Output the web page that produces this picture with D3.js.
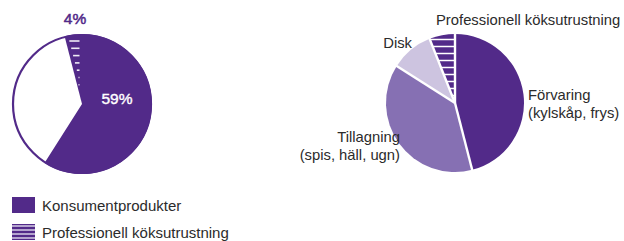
<!DOCTYPE html>
<html>
<head>
<meta charset="utf-8">
<script src="https://cdn.jsdelivr.net/npm/d3@7"></script>
<style>
  body { margin: 0; background: #fff; }
  text { font-family: "Liberation Sans", Arial, sans-serif; }
</style>
</head>
<body>
<svg id="chart" width="624" height="241"></svg>
<script>
// left pie: share of sales
var leftNames = ["Professionell köksutrustning", "Konsumentprodukter", "Övrigt"];
var leftValues = [4, 59, 37];
var leftLabels = ["4%", "59%", ""];

// right pie: professional kitchen split
var rightNames = ["Förvaring (kylskåp, frys)", "Tillagning (spis, häll, ugn)", "Disk", "Professionell köksutrustning"];
var rightValues = [46, 38, 10, 6];

var legendNames = ["Konsumentprodukter", "Professionell köksutrustning"];

var dark = "#522a89", mid = "#8670b3", light = "#cdc4e0", txt = "#2b2b2b";
var svg = d3.select("#chart");

/* ---------- left pie ---------- */
var lcx = 82, lcy = 104, lr = 70;
var a0 = leftValues[0] / 100 * 2 * Math.PI;
var lpie = d3.pie().sort(null).startAngle(-a0).endAngle(2 * Math.PI - a0);
var larc = d3.arc().innerRadius(0).outerRadius(lr);
var lg = svg.append("g").attr("transform", "translate(" + lcx + "," + lcy + ")");
var ldata = lpie(leftValues);

lg.append("circle").attr("r", lr - 1).attr("fill", "#fff")
	.attr("stroke", dark).attr("stroke-width", 2.2);
lg.selectAll("path.s").data(ldata.slice(0, 2)).enter()
	.append("path").attr("class", "s")
	.attr("d", larc).attr("fill", dark);

// short white dashes inside the 4% slice, inset from its edges
var tanA = Math.tan(Math.abs(ldata[0].startAngle));
d3.range(-lr + 7, -14, 7.3).forEach(function(y) {
	var xl = y * tanA + 3.5, xr = -2.5;
	if (xr - xl < 1) { xl = xr - 1; }
	lg.append("line").attr("x1", xl).attr("x2", xr)
		.attr("y1", y).attr("y2", y)
		.attr("stroke", "#efebf5").attr("stroke-width", 1.6);
});

lg.append("text").attr("x", -7).attr("y", -80)
	.attr("text-anchor", "middle").attr("fill", dark)
	.attr("stroke", dark).attr("stroke-width", 0.5)
	.attr("font-size", 15.5).text(leftLabels[0]);
lg.append("text").attr("x", 35).attr("y", 0)
	.attr("text-anchor", "middle").attr("fill", "#fff")
	.attr("stroke", "#fff").attr("stroke-width", 0.4)
	.attr("font-size", 15.5).text(leftLabels[1]);

/* ---------- right pie ---------- */
var rcx = 455, rcy = 103, rr = 69;
var rpie = d3.pie().sort(null);
var rarc = d3.arc().innerRadius(0).outerRadius(rr);
var rg = svg.append("g").attr("transform", "translate(" + rcx + "," + rcy + ")");
var rdata = rpie(rightValues);
var rcol = [dark, mid, light, dark];

rg.selectAll("path.s").data(rdata).enter()
	.append("path").attr("class", "s")
	.attr("d", rarc).attr("fill", function(d, i) { return rcol[i]; });

(function() {
	var d = rdata[3];
	rg.append("clipPath").attr("id", "rclip").append("path").attr("d", rarc(d));
	var gl = rg.append("g").attr("clip-path", "url(#rclip)");
	d3.range(-rr + 5.5, 0, 7).forEach(function(y) {
		gl.append("line").attr("x1", -rr).attr("x2", 0)
			.attr("y1", y).attr("y2", y)
			.attr("stroke", "#fff").attr("stroke-width", 1.4);
	});
})();

// white separators
rg.selectAll("line.sep").data(rdata).enter()
	.append("line").attr("class", "sep")
	.attr("x1", 0).attr("y1", 0)
	.attr("x2", function(d) { return Math.sin(d.startAngle) * (rr + 1); })
	.attr("y2", function(d) { return -Math.cos(d.startAngle) * (rr + 1); })
	.attr("stroke", "#fff").attr("stroke-width", 2.4);

var rlab = [
	{lines: ["Förvaring", "(kylskåp, frys)"], x: 73, y: -3, anchor: "start"},
	{lines: ["Tillagning", "(spis, häll, ugn)"], x: -55, y: 39, anchor: "end"},
	{lines: ["Disk"], x: -43, y: -55, anchor: "end"},
	{lines: ["Professionell köksutrustning"], x: -19, y: -78, anchor: "start"}
];
rlab.forEach(function(l) {
	var t = rg.append("text").attr("text-anchor", l.anchor)
		.attr("fill", txt).attr("font-size", 14.8);
	l.lines.forEach(function(s, k) {
		t.append("tspan").attr("x", l.x).attr("y", l.y + k * 18).text(s);
	});
});

/* ---------- legend ---------- */
var leg = svg.append("g").attr("transform", "translate(12,197)");
legendNames.forEach(function(n, i) {
	var g = leg.append("g").attr("transform", "translate(0," + i * 27 + ")");
	g.append("rect").attr("width", 23).attr("height", 16).attr("fill", dark);
	if (i == 1) {
		[2, 6, 10, 14].forEach(function(y) {
			g.append("line").attr("x1", 0).attr("x2", 23)
				.attr("y1", y).attr("y2", y)
				.attr("stroke", light).attr("stroke-width", 1.6);
		});
	}
	g.append("text").attr("x", 30).attr("y", 14)
		.attr("fill", txt).attr("font-size", 15).text(n);
});
</script>
</body>
</html>
